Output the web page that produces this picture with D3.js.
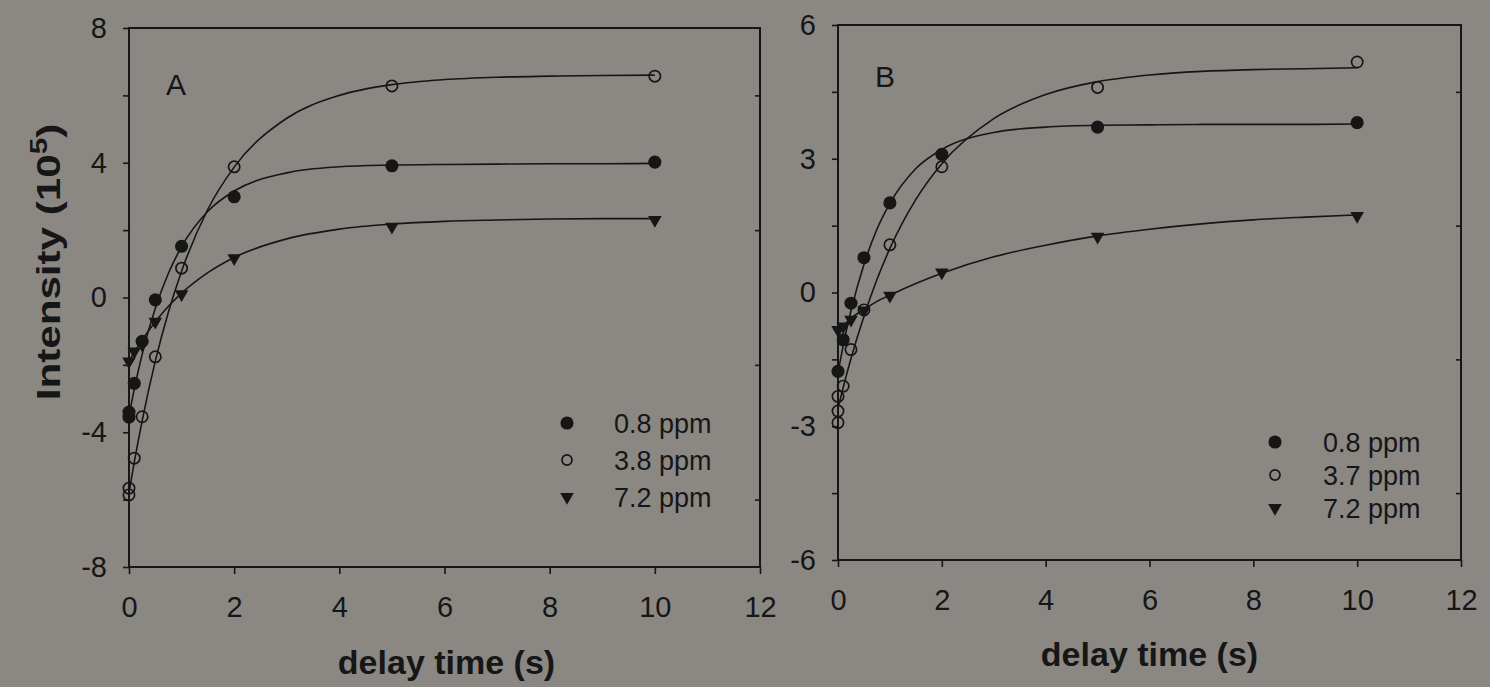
<!DOCTYPE html>
<html lang="en">
<head>
<meta charset="UTF-8">
<title>Intensity vs delay time</title>
<style>
  body { margin: 0; background: #8b8884; }
  svg text { font-family: "Liberation Sans", Arial, sans-serif; fill: #161616; }
  .axis path, .axis line { stroke: #161616; stroke-width: 1.6; }
  .axis text { font-size: 29px; }
  .fit { fill: none; stroke: #161616; stroke-width: 1.6; }
</style>
</head>
<body>
<svg id="chart" width="1490" height="687"></svg>
<script src="https://d3js.org/d3.v7.min.js"></script>
<script>
// ticks
var xTicks = [0, 2, 4, 6, 8, 10, 12];
var yTicksA = [-8, -6, -4, -2, 0, 2, 4, 6, 8];
var yTicksB = [-6, -4.5, -3, -1.5, 0, 1.5, 3, 4.5, 6];
var yLabelsA = [-8, -4, 0, 4, 8];
var yLabelsB = [-6, -3, 0, 3, 6];

// panel A measured points
var delayA08 = [0, 0, 0.1, 0.25, 0.5, 1, 2, 5, 10];
var intA08 = [-3.4, -3.55, -2.55, -1.3, -0.07, 1.52, 2.99, 3.91, 4.02];
var delayA38 = [0, 0, 0.1, 0.25, 0.5, 1, 2, 5, 10];
var intA38 = [-5.86, -5.66, -4.77, -3.54, -1.76, 0.87, 3.88, 6.28, 6.57];
var delayA72 = [0, 0.1, 0.25, 0.5, 1, 2, 5, 10];
var intA72 = [-1.9, -1.6, -1.4, -0.72, 0.1, 1.17, 2.1, 2.3];

// panel B measured points
var delayB08 = [0, 0.1, 0.25, 0.5, 1, 2, 5, 10];
var intB08 = [-1.77, -1.06, -0.24, 0.78, 2.01, 3.1, 3.71, 3.81];
var delayB37 = [0, 0, 0, 0.1, 0.25, 0.5, 1, 2, 5, 10];
var intB37 = [-2.33, -2.66, -2.92, -2.1, -1.28, -0.39, 1.07, 2.82, 4.6, 5.17];
var delayB72 = [0, 0.1, 0.25, 0.5, 1, 2, 5, 10];
var intB72 = [-0.84, -0.76, -0.61, -0.4, -0.07, 0.45, 1.25, 1.72];

// fitted curves
var fitTime = [0, 0.1, 0.25, 0.5, 0.75, 1, 1.5, 2, 3, 4, 5, 6, 7, 8, 9, 10];
var fitA08 = [-3.5, -2.72, -1.69, -0.32, 0.72, 1.51, 2.56, 3.16, 3.7, 3.88, 3.93, 3.95, 3.96, 3.97, 3.97, 3.98];
var fitA38 = [-5.8, -4.89, -3.66, -1.89, -0.43, 0.78, 2.62, 3.87, 5.32, 6.0, 6.32, 6.47, 6.54, 6.57, 6.59, 6.6];
var fitA72 = [-1.9, -1.63, -1.26, -0.72, -0.26, 0.13, 0.74, 1.19, 1.74, 2.03, 2.18, 2.26, 2.3, 2.33, 2.34, 2.34];
var fitB08 = [-1.8, -1.19, -0.41, 0.63, 1.42, 2.0, 2.78, 3.21, 3.59, 3.71, 3.75, 3.76, 3.77, 3.77, 3.77, 3.78];
var fitB37 = [-2.6, -2.13, -1.48, -0.53, 0.29, 0.99, 2.09, 2.89, 3.9, 4.44, 4.73, 4.88, 4.96, 5.0, 5.02, 5.04];
var fitB72 = [-0.85, -0.75, -0.58, -0.38, -0.2, -0.06, 0.2, 0.43, 0.8, 1.06, 1.27, 1.42, 1.54, 1.63, 1.69, 1.74];

var legendA = ["0.8 ppm", "3.8 ppm", "7.2 ppm"];
var legendB = ["0.8 ppm", "3.7 ppm", "7.2 ppm"];

var ink = "#161616";
var svg = d3.select("#chart");

function zip(xs, ys) {
  return xs.map(function(d, i) { return [d, ys[i]]; });
}

var symFilled = d3.symbol().type(d3.symbolCircle).size(135);
var symOpen = d3.symbol().type(d3.symbolCircle).size(100);
var symTri = d3.symbol().type(d3.symbolTriangle).size(80);

function drawMarks(g, pts, kind, x, y) {
  var sel = g.append("g").selectAll("path")
    .data(pts)
    .enter().append("path")
    .attr("transform", function(d) {
      return "translate(" + x(d[0]) + "," + y(d[1]) + ")" + (kind == "tri" ? " rotate(180)" : "");
    });
  if (kind == "filled") sel.attr("d", symFilled).attr("fill", ink);
  if (kind == "open") sel.attr("d", symOpen).attr("fill", "none").attr("stroke", ink).attr("stroke-width", 1.7);
  if (kind == "tri") sel.attr("d", symTri).attr("fill", ink);
}

function panel(p) {
  var x = d3.scaleLinear().domain([0, 12]).range([p.left, p.right]);
  var y = d3.scaleLinear().domain(p.yDomain).range([p.bottom, p.top]);
  var g = svg.append("g");

  // frame
  g.append("rect")
    .attr("x", p.left).attr("y", p.top)
    .attr("width", p.right - p.left).attr("height", p.bottom - p.top)
    .attr("fill", "none").attr("stroke", ink).attr("stroke-width", 2);

  g.append("g").attr("class", "axis")
    .attr("transform", "translate(0," + p.bottom + ")")
    .call(d3.axisBottom(x).tickValues(xTicks).tickSize(7).tickPadding(22).tickSizeOuter(0))
    .call(function(a) { a.select(".domain").remove(); });

  g.append("g").attr("class", "axis")
    .attr("transform", "translate(" + p.left + ",0)")
    .call(d3.axisLeft(y).tickValues(p.yTicks).tickSize(6).tickPadding(16).tickSizeOuter(0)
      .tickFormat(function(d) { return p.yLabels.indexOf(d) >= 0 ? d : ""; }))
    .call(function(a) { a.select(".domain").remove(); });

  // inward ticks on the right side
  g.append("g").attr("class", "axis")
    .attr("transform", "translate(" + p.right + ",0)")
    .call(d3.axisLeft(y).tickValues(p.yTicks.filter(function(d) { return p.yLabels.indexOf(d) < 0; }))
      .tickSize(5).tickFormat(""))
    .call(function(a) { a.select(".domain").remove(); });

  var line = d3.line()
    .x(function(d) { return x(d[0]); })
    .y(function(d) { return y(d[1]); })
    .curve(d3.curveMonotoneX);

  p.fits.forEach(function(f) {
    g.append("path").attr("class", "fit").attr("d", line(zip(fitTime, f)));
  });

  p.series.forEach(function(s) {
    drawMarks(g, zip(s.t, s.v), s.kind, x, y);
  });

  g.append("text")
    .attr("x", p.letterX).attr("y", p.letterY)
    .style("font-size", "30px")
    .text(p.letter);

  g.append("text")
    .attr("x", (p.left + p.right) / 2 + p.titleShift).attr("y", p.titleY)
    .attr("text-anchor", "middle")
    .style("font-size", "34px").style("font-weight", "bold")
    .text("delay time (s)");

  // legend
  var kinds = ["filled", "open", "tri"];
  var leg = g.append("g").selectAll("g")
    .data(p.legend)
    .enter().append("g")
    .attr("transform", function(d, i) { return "translate(" + p.legX + "," + (p.legY + i * p.legStep) + ")"; });
  leg.append("path")
    .attr("transform", function(d, i) { return "translate(0,0)" + (kinds[i] == "tri" ? " rotate(180)" : ""); })
    .attr("d", function(d, i) { return kinds[i] == "filled" ? symFilled() : kinds[i] == "open" ? d3.symbol().type(d3.symbolCircle).size(80)() : symTri(); })
    .attr("fill", function(d, i) { return kinds[i] == "open" ? "none" : ink; })
    .attr("stroke", function(d, i) { return kinds[i] == "open" ? ink : "none"; })
    .attr("stroke-width", 1.7);
  leg.append("text")
    .attr("x", p.legTextDx).attr("y", 9.5)
    .style("font-size", "27px")
    .text(function(d) { return d; });
}

panel({
  left: 129, right: 760, top: 28, bottom: 567,
  yDomain: [-8, 8], yTicks: yTicksA, yLabels: yLabelsA,
  fits: [fitA08, fitA38, fitA72],
  series: [
    { t: delayA08, v: intA08, kind: "filled" },
    { t: delayA38, v: intA38, kind: "open" },
    { t: delayA72, v: intA72, kind: "tri" }
  ],
  letter: "A", letterX: 166, letterY: 95,
  titleShift: 2, titleY: 674,
  legend: legendA, legX: 567, legY: 423, legStep: 37, legTextDx: 47
});

panel({
  left: 838, right: 1461, top: 25, bottom: 560,
  yDomain: [-6, 6], yTicks: yTicksB, yLabels: yLabelsB,
  fits: [fitB08, fitB37, fitB72],
  series: [
    { t: delayB08, v: intB08, kind: "filled" },
    { t: delayB37, v: intB37, kind: "open" },
    { t: delayB72, v: intB72, kind: "tri" }
  ],
  letter: "B", letterX: 875, letterY: 87,
  titleShift: 0, titleY: 666,
  legend: legendB, legX: 1275, legY: 442, legStep: 33, legTextDx: 48
});

// y axis title, stretched along its length like the scan
var yt = svg.append("text")
  .attr("transform", "translate(60,262) rotate(-90) scale(1.24,1)")
  .attr("text-anchor", "middle")
  .style("font-size", "34px").style("font-weight", "bold");
yt.append("tspan").text("Intensity (10");
yt.append("tspan").attr("dy", -13).style("font-size", "24px").text("5");
yt.append("tspan").attr("dy", 13).text(")");
</script>
</body>
</html>
